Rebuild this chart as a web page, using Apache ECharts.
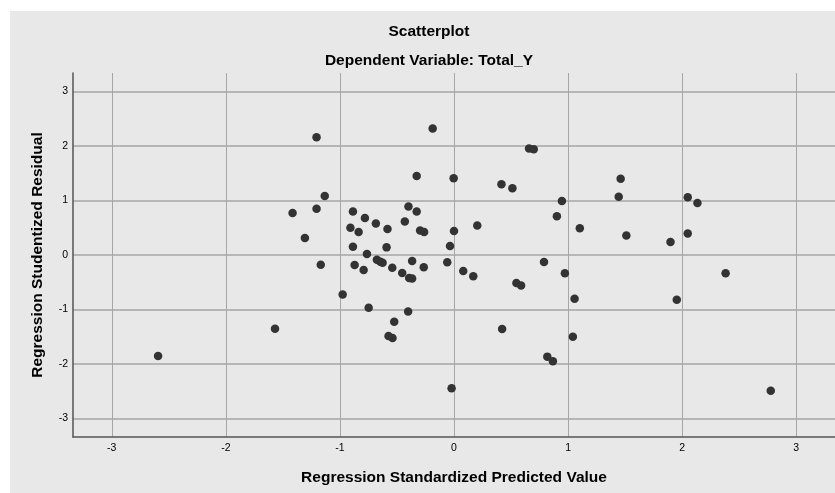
<!DOCTYPE html>
<html>
<head>
<meta charset="utf-8">
<script src="https://cdn.jsdelivr.net/npm/echarts@6/dist/echarts.min.js"></script>
<style>
  html, body { margin: 0; padding: 0; background: #fff; }
  #wrap { position: absolute; left: 10px; top: 11px; width: 825px; height: 482px; background: #e8e8e8; }
  #chart { width: 825px; height: 482px; }
</style>
</head>
<body>
<div id="wrap"><div id="chart"></div></div>
<script>
// standardized predicted value
var predicted = [
  -1.205, -1.133, -1.205, -1.415, -1.307, -1.168, -1.569, -2.594,
  -0.187, 0.658, 0.699, -0.327, -0.003, 0.416, 0.512, 0.946, 0.902, 1.103,
  -0.399, -0.327, -0.886, -0.781, -0.685, -0.908, -0.836, -0.583, -0.431,
  -0.297, -0.262, 0.0, 0.204, -0.886, -0.591, -0.035, -0.763,
  -0.871, -0.792, -0.676, -0.646, -0.626, -0.541, -0.367, -0.454, -0.393,
  -0.367, -0.265, -0.059, 0.081, 0.169, 0.547, 0.588, 0.789, 0.972, 1.057,
  -0.976, -0.748, -0.402, -0.524, -0.574, -0.539, 0.422, 1.042, 0.818, 0.867,
  -0.021, 1.461, 1.444, 2.049, 2.134, 1.511, 2.049, 1.898, 1.953, 2.381, 2.777
];
// studentized residual
var residual = [
  2.16, 1.084, 0.85, 0.77, 0.31, -0.177, -1.353, -1.853,
  2.32, 1.956, 1.94, 1.45, 1.41, 1.30, 1.225, 0.99, 0.71, 0.49,
  0.89, 0.80, 0.80, 0.68, 0.58, 0.50, 0.42, 0.475, 0.615,
  0.45, 0.42, 0.44, 0.54, 0.152, 0.14, 0.164, 0.018,
  -0.183, -0.274, -0.086, -0.122, -0.141, -0.232, -0.11, -0.33, -0.42,
  -0.433, -0.226, -0.135, -0.293, -0.39, -0.512, -0.561, -0.128, -0.336, -0.805,
  -0.726, -0.969, -1.037, -1.225, -1.488, -1.525, -1.36, -1.50, -1.865, -1.95,
  -2.444, 1.40, 1.07, 1.06, 0.956, 0.36, 0.395, 0.237, -0.823, -0.336, -2.493
];
var xTicks = [-3, -2, -1, 0, 1, 2, 3];
var yTicks = [-3, -2, -1, 0, 1, 2, 3];

var points = predicted.map(function (x, i) { return [x, residual[i]]; });

var myChart = echarts.init(document.getElementById('chart'));
var titleFont = { fontFamily: 'Liberation Sans', fontSize: 15.5, fontWeight: 'bold', color: '#000' };

var option = {
  backgroundColor: 'transparent',
  animation: false,
  title: [
    { text: 'Scatterplot', left: 419, top: 13, textAlign: 'center', padding: 0, textStyle: titleFont },
    { text: 'Dependent Variable: Total_Y', left: 419, top: 42, textAlign: 'center', padding: 0, textStyle: titleFont }
  ],
  grid: { left: 63, top: 62, right: -3, bottom: 56, containLabel: false },
  xAxis: {
    type: 'value',
    min: -3.34,
    max: 3.34,
    name: 'Regression Standardized Predicted Value',
    nameLocation: 'middle',
    nameGap: 33,
    nameTextStyle: titleFont,
    axisLine: { show: true, onZero: false, lineStyle: { color: '#555', width: 1.5 } },
    axisTick: { show: false, customValues: xTicks },
    axisLabel: { customValues: xTicks, margin: 6, color: '#000', fontFamily: 'Liberation Sans', fontSize: 10.5 },
    splitLine: { show: true, lineStyle: { color: '#a6a6a6', width: 1 } }
  },
  yAxis: {
    type: 'value',
    min: -3.34,
    max: 3.34,
    name: 'Regression Studentized Residual',
    nameLocation: 'middle',
    nameGap: 27,
    nameTextStyle: titleFont,
    axisLine: { show: true, onZero: false, lineStyle: { color: '#555', width: 1.5 } },
    axisTick: { show: false, customValues: yTicks },
    axisLabel: { customValues: yTicks, margin: 5, color: '#000', fontFamily: 'Liberation Sans', fontSize: 10.5 },
    splitLine: { show: true, lineStyle: { color: '#a6a6a6', width: 1.5 } }
  },
  series: [
    {
      type: 'scatter',
      data: points,
      symbolSize: 8.5,
      itemStyle: { color: '#333', opacity: 1 }
    }
  ]
};
myChart.setOption(option);
</script>
</body>
</html>
